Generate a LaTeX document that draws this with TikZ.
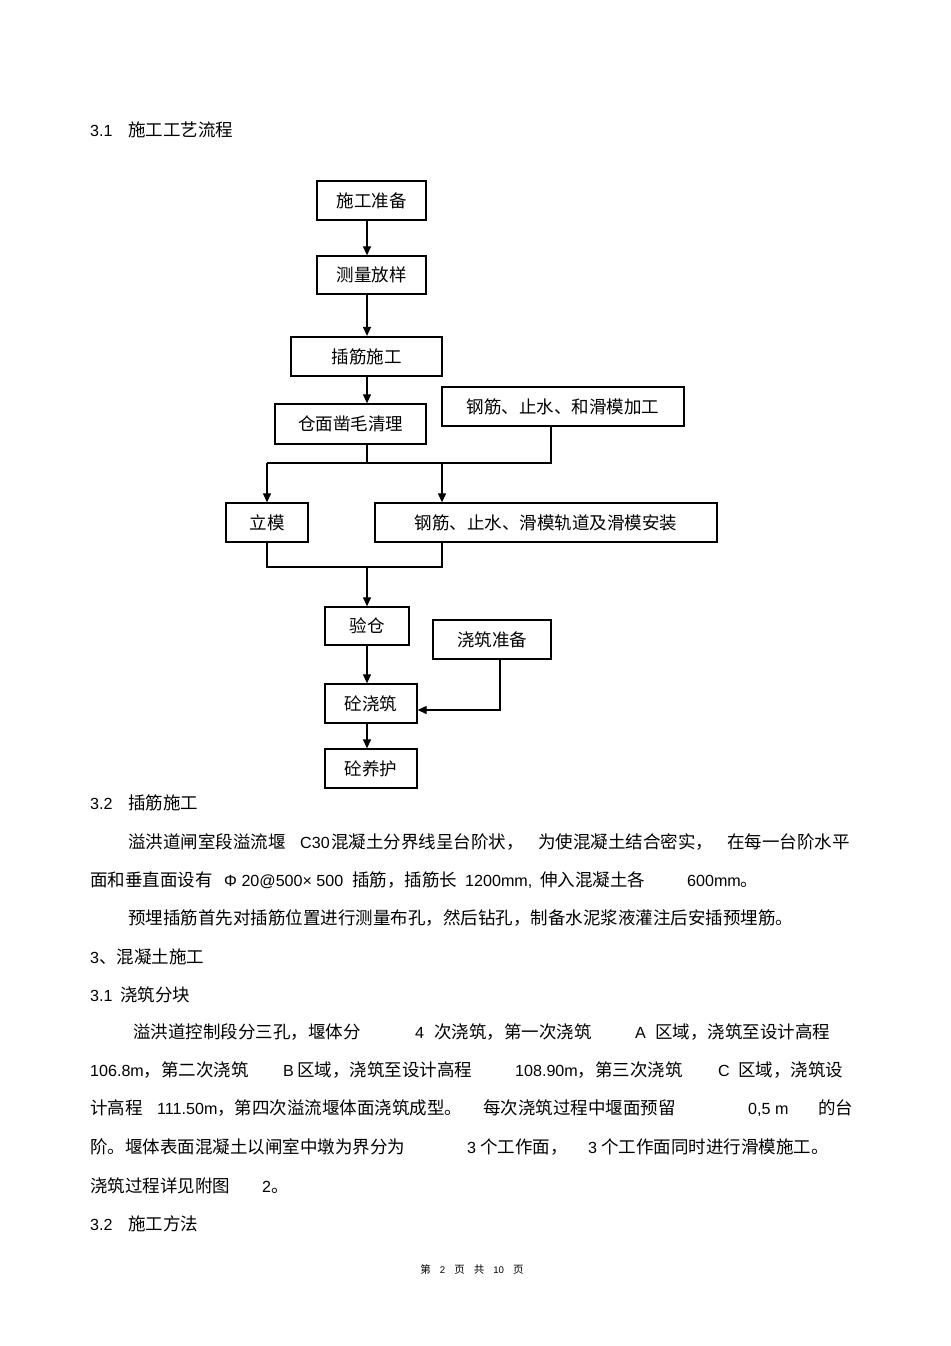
\documentclass[tikz,border=0pt]{standalone}
\usepackage{fontspec}
\setmainfont{Noto Sans CJK SC}
\newfontfamily\latfont{Liberation Sans}[Scale=0.92]
\newcommand{\lat}[1]{{\latfont #1}}
\usetikzlibrary{arrows.meta}

\begin{document}
\begin{tikzpicture}[x=1pt, y=-1pt,
  procbox/.style={draw, line width=1.3pt, inner sep=0pt,
                  font=\fontsize{17.5}{20}\selectfont},
  txt/.style={anchor=base west, inner sep=0pt, font=\fontsize{17.5}{20}\selectfont},
  folio/.style={anchor=base, inner sep=0pt, font=\fontsize{10.5}{12}\selectfont},
  link/.style={line width=1.2pt},
  >={Triangle[length=9pt,width=8pt]}
]
\useasboundingbox[fill=white] (0,0) rectangle (950,1346);

\node[procbox, minimum width=109pt, minimum height=39pt] (prep)     at (371.5,200.5) {施工准备};
\node[procbox, minimum width=109pt, minimum height=38pt] (survey)   at (371.5,275)   {测量放样};
\node[procbox, minimum width=151pt, minimum height=39pt, line width=2.2pt] (dowel) at (366.5,356.5) {插筋施工};
\node[procbox, minimum width=151pt, minimum height=40pt] (clean)    at (350.5,424)   {仓面凿毛清理};
\node[procbox, minimum width=242pt, minimum height=39pt] (proc)     at (563,406.5)   {钢筋、止水、和滑模加工};
\node[procbox, minimum width=82pt,  minimum height=39pt] (form)     at (267,522.5)   {立模};
\node[procbox, minimum width=342pt, minimum height=39pt] (inst)     at (546,522.5)   {钢筋、止水、滑模轨道及滑模安装};
\node[procbox, minimum width=84pt,  minimum height=38pt] (check)    at (367,626)     {验仓};
\node[procbox, minimum width=118pt, minimum height=39pt] (pourprep) at (492,639.5)   {浇筑准备};
\node[procbox, minimum width=92pt,  minimum height=39pt] (pour)     at (371,703.5)   {砼浇筑};
\node[procbox, minimum width=92pt,  minimum height=39pt] (cure)     at (371,768.5)   {砼养护};

\coordinate (axis)    at (367,0);
\coordinate (splitA)  at (0,463);
\coordinate (splitB)  at (0,567);
\coordinate (procOut) at (551,0);
\coordinate (instIn)  at (442,0);
\coordinate (feed)    at (500,710);

\draw[link,->] (prep.south -| axis) -- (survey.north -| axis);
\draw[link,->] (survey.south -| axis) -- (dowel.north -| axis);
\draw[link,->] (dowel.south -| axis) -- (clean.north -| axis);
\draw[link] (clean.south -| axis) -- (axis |- splitA);
\draw[link] (proc.south -| procOut) -- (procOut |- splitA) -- (form.north |- splitA);
\draw[link,->] (form.north |- splitA) -- (form.north);
\draw[link,->] (instIn |- splitA) -- (inst.north -| instIn);
\draw[link] (form.south) |- (instIn |- splitB) -- (inst.south -| instIn);
\draw[link,->] (axis |- splitB) -- (check.north -| axis);
\draw[link,->] (check.south -| axis) -- (pour.north -| axis);
\draw[link,->] (pourprep.south -| feed) |- (pour.east |- feed);
\draw[link,->] (pour.south -| axis) -- (cure.north -| axis);

\node[txt] (hA)  at (90,136.5)   {\lat{3.1}};
\node[txt] (hAt) at (128,136.5)  {施工工艺流程};
\node[txt] (hB)  at (90,809.5)   {\lat{3.2}};
\node[txt] (hBt) at (128,809.5)  {插筋施工};
\node[txt] (pA1) at (128,848.5)  {溢洪道闸室段溢流堰};
\node[txt] (pA2) at (300,848.5)  {\lat{C30}};
\node[txt] (pA3) at (331,848.5)  {混凝土分界线呈台阶状，};
\node[txt] (pA4) at (538,848.5)  {为使混凝土结合密实，};
\node[txt] (pA5) at (727,848.5)  {在每一台阶水平};
\node[txt] (pB1) at (90,886.5)   {面和垂直面设有};
\node[txt] (pB2) at (224,886.5)  {\lat{Φ 20@500× 500}};
\node[txt] (pB3) at (352,886.5)  {插筋，插筋长};
\node[txt] (pB4) at (465,886.5)  {\lat{1200mm,}};
\node[txt] (pB5) at (540,886.5)  {伸入混凝土各};
\node[txt] (pB6) at (687,886.5)  {\lat{600mm}。};
\node[txt] (pC)  at (128,924.5)  {预埋插筋首先对插筋位置进行测量布孔，然后钻孔，制备水泥浆液灌注后安插预埋筋。};
\node[txt] (hC)  at (90,963.5)   {\lat{3}、混凝土施工};
\node[txt] (hD)  at (90,1001.5)  {\lat{3.1}};
\node[txt] (hDt) at (120,1001.5) {浇筑分块};
\node[txt] (pD1) at (133,1038.5) {溢洪道控制段分三孔，堰体分};
\node[txt] (pD2) at (415,1038.5) {\lat{4}};
\node[txt] (pD3) at (434,1038.5) {次浇筑，第一次浇筑};
\node[txt] (pD4) at (635,1038.5) {\lat{A}};
\node[txt] (pD5) at (655,1038.5) {区域，浇筑至设计高程};
\node[txt] (pE1) at (90,1076.5)  {\lat{106.8m}，第二次浇筑};
\node[txt] (pE2) at (283,1076.5) {\lat{B}};
\node[txt] (pE3) at (297,1076.5) {区域，浇筑至设计高程};
\node[txt] (pE4) at (515,1076.5) {\lat{108.90m}，第三次浇筑};
\node[txt] (pE5) at (718,1076.5) {\lat{C}};
\node[txt] (pE6) at (738,1076.5) {区域，浇筑设};
\node[txt] (pF1) at (90,1114.5)  {计高程};
\node[txt] (pF2) at (157,1114.5) {\lat{111.50m}，第四次溢流堰体面浇筑成型。};
\node[txt] (pF3) at (483,1114.5) {每次浇筑过程中堰面预留};
\node[txt] (pF4) at (748,1114.5) {\lat{0,5 m}};
\node[txt] (pF5) at (818,1114.5) {的台};
\node[txt] (pG1) at (90,1153.5)  {阶。堰体表面混凝土以闸室中墩为界分为};
\node[txt] (pG2) at (467,1153.5) {\lat{3} 个工作面，};
\node[txt] (pG3) at (588,1153.5) {\lat{3} 个工作面同时进行滑模施工。};
\node[txt] (pH1) at (90,1192.5)  {浇筑过程详见附图};
\node[txt] (pH2) at (262,1192.5) {\lat{2}。};
\node[txt] (hE)  at (90,1230.5)  {\lat{3.2}};
\node[txt] (hEt) at (128,1230.5) {施工方法};

\node[folio] (page) at (472,1273) {第\hspace{9pt}\lat{2}\hspace{9pt}页\hspace{9pt}共\hspace{9pt}\lat{10}\hspace{9pt}页};
\end{tikzpicture}
\end{document}
